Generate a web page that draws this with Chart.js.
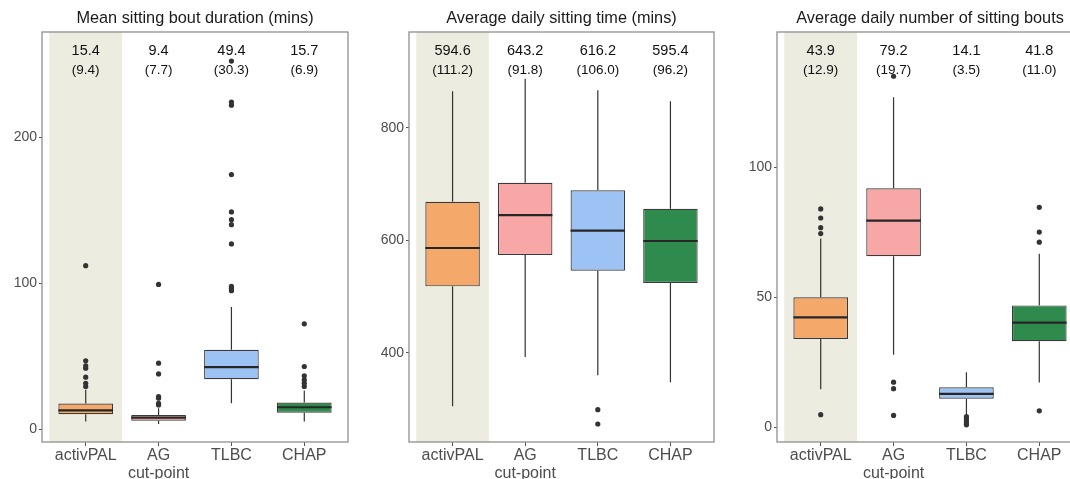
<!DOCTYPE html>
<html>
<head>
<meta charset="utf-8">
<script src="https://cdn.jsdelivr.net/npm/chart.js@4.4.0/dist/chart.umd.min.js"></script>
<style>
  html, body { margin: 0; padding: 0; background: #fff; overflow: hidden; width: 1070px; height: 479px; }
  canvas { position: absolute; top: 0; }
</style>
</head>
<body>
<canvas id="c1" width="356" height="479" style="left:0px"></canvas>
<canvas id="c2" width="362" height="479" style="left:360px"></canvas>
<canvas id="c3" width="361" height="479" style="left:730px"></canvas>
<script>
// categories (devices / methods)
const categories = ['activPAL', ['AG', 'cut-point'], 'TLBC', 'CHAP'];
const categoryPos = [1, 2, 3, 4];
const boxColors = ['#f4a96b', '#f7a8a6', '#9dc3f4', '#2f8a4d'];

// panel 1: mean sitting bout duration (mins)
const boutTicks = [0, 100, 200];
const boutMean = [15.4, 9.4, 49.4, 15.7];
const boutSD = [9.4, 7.7, 30.3, 6.9];
const boutLow = [5.3, 3.7, 17.8, 5.3];
const boutQ1 = [10.3, 5.9, 34.3, 11.4];
const boutMedian = [12.9, 8.0, 42.5, 15.1];
const boutQ3 = [17.6, 9.8, 54.4, 18.3];
const boutHigh = [27.0, 14.4, 83.7, 26.5];
const boutOutliers = [
    [29.3, 31.5, 35.7, 41.8, 43.4, 46.9, 112],
    [16.7, 17.8, 21.3, 22.4, 37.9, 45.3, 99.2],
    [94.9, 96.5, 97.8, 126.9, 140.1, 143.5, 148.8, 174.4, 221.9, 224.0, 252.1],
    [29.3, 31.5, 33.8, 36.6, 43.0, 72.2]
];

// panel 2: average daily sitting time (mins)
const sitTicks = [400, 600, 800];
const sitMean = [594.6, 643.2, 616.2, 595.4];
const sitSD = [111.2, 91.8, 106.0, 96.2];
const sitLow = [304.9, 392.6, 360.0, 347.6];
const sitQ1 = [518.2, 573.9, 546.1, 524.1];
const sitMedian = [586.4, 645.0, 617.2, 598.8];
const sitQ3 = [668.7, 702.5, 688.9, 656.3];
const sitHigh = [864.9, 887.4, 866.7, 847.1];
const sitOutliers = [[], [], [299.0, 273.5], []];

// panel 3: average daily number of sitting bouts
const nTicks = [0, 50, 100];
const nMean = [43.9, 79.2, 14.1, 41.8];
const nSD = [12.9, 19.7, 3.5, 11.0];
const nLow = [14.7, 27.9, 4.9, 17.3];
const nQ1 = [34.0, 65.8, 11.0, 33.1];
const nMedian = [42.3, 79.5, 12.9, 40.3];
const nQ3 = [50.0, 91.9, 15.4, 46.9];
const nHigh = [72.6, 126.9, 21.2, 66.8];
const nOutliers = [
    [74.5, 76.8, 80.5, 84.0, 4.9],
    [135.0, 17.4, 14.9, 4.6],
    [4.2, 3.2, 2.3, 1.4, 1.0],
    [84.6, 75.1, 71.2, 6.4]
];

const FONT = "'Liberation Sans', Arial, sans-serif";

// 画箱线图的须、中位数、边框、注释和标题
function boxPlugin(p) {
    return {
        id: 'boxExtras',
        beforeDatasetsDraw(chart) {
            const { ctx, chartArea: a, scales: { x, y } } = chart;
            ctx.save();
            // shaded activPAL band
            const x0 = x.getPixelForValue(0.5), x1 = x.getPixelForValue(1.5);
            ctx.fillStyle = '#edece0';
            ctx.fillRect(x0, a.top, x1 - x0, a.bottom - a.top);
            // whiskers
            ctx.strokeStyle = '#333';
            ctx.lineWidth = 1.2;
            categoryPos.forEach((c, i) => {
                const px = x.getPixelForValue(c);
                ctx.beginPath();
                ctx.moveTo(px, y.getPixelForValue(p.low[i]));
                ctx.lineTo(px, y.getPixelForValue(p.q1[i]));
                ctx.moveTo(px, y.getPixelForValue(p.q3[i]));
                ctx.lineTo(px, y.getPixelForValue(p.high[i]));
                ctx.stroke();
            });
            ctx.restore();
        },
        afterDatasetsDraw(chart) {
            const { ctx, chartArea: a, scales: { x, y } } = chart;
            const bars = chart.getDatasetMeta(1).data;
            ctx.save();
            // medians
            ctx.strokeStyle = '#262626';
            ctx.lineWidth = 2.2;
            categoryPos.forEach((c, i) => {
                const px = x.getPixelForValue(c);
                const half = bars[i].width / 2;
                const py = y.getPixelForValue(p.median[i]);
                ctx.beginPath();
                ctx.moveTo(px - half, py);
                ctx.lineTo(px + half, py);
                ctx.stroke();
            });
            // panel frame
            ctx.strokeStyle = '#8f8f8f';
            ctx.lineWidth = 1.3;
            ctx.strokeRect(a.left, a.top, a.right - a.left, a.bottom - a.top);
            // mean (SD) annotations
            ctx.fillStyle = '#111';
            ctx.textAlign = 'center';
            ctx.textBaseline = 'middle';
            categoryPos.forEach((c, i) => {
                const px = x.getPixelForValue(c);
                ctx.font = '14.5px ' + FONT;
                ctx.fillText(p.mean[i].toFixed(1), px, a.top + 19);
                ctx.font = '13.5px ' + FONT;
                ctx.fillText('(' + p.sd[i].toFixed(1) + ')', px, a.top + 38);
            });
            // title
            ctx.font = '16.3px ' + FONT;
            ctx.fillStyle = '#1a1a1a';
            ctx.fillText(p.title, (a.left + a.right) / 2, 19);
            ctx.restore();
        }
    };
}

function makePanel(id, p) {
    new Chart(document.getElementById(id), {
        type: 'bar',
        data: {
            datasets: [
                {
                    type: 'scatter',
                    data: p.outliers.flatMap((arr, i) => arr.map(v => ({ x: categoryPos[i], y: v }))),
                    backgroundColor: '#333',
                    borderWidth: 0,
                    pointRadius: 2.6
                },
                {
                    type: 'bar',
                    data: categoryPos.map((c, i) => ({ x: c, y: [p.q1[i], p.q3[i]] })),
                    backgroundColor: boxColors,
                    borderColor: '#3a3a3a',
                    borderWidth: 1.2,
                    borderSkipped: false,
                    barPercentage: 0.75,
                    categoryPercentage: 1
                }
            ]
        },
        options: {
            responsive: false,
            animation: false,
            layout: { padding: { top: 32, right: 8, left: 0, bottom: 0 } },
            plugins: { legend: { display: false }, tooltip: { enabled: false }, title: { display: false } },
            scales: {
                x: {
                    type: 'linear',
                    min: 0.4,
                    max: 4.6,
                    offset: false,
                    afterBuildTicks: s => { s.ticks = categoryPos.map(v => ({ value: v })); },
                    afterFit: s => { s.height = 37; },
                    grid: { offset: false, drawOnChartArea: false, drawTicks: true, tickLength: 4, color: '#555', lineWidth: 1 },
                    border: { display: false },
                    ticks: {
                        autoSkip: false,
                        maxRotation: 0,
                        padding: 1,
                        color: '#4d4d4d',
                        font: { family: FONT, size: 16, lineHeight: 1.12 },
                        callback: v => categories[v - 1]
                    }
                },
                y: {
                    min: p.min,
                    max: p.max,
                    afterBuildTicks: s => { s.ticks = p.ticks.map(v => ({ value: v })); },
                    afterFit: s => { s.width = p.axisWidth; },
                    grid: { drawOnChartArea: false, drawTicks: true, tickLength: 3, color: '#555', lineWidth: 1 },
                    border: { display: false },
                    ticks: {
                        padding: 2,
                        color: '#4d4d4d',
                        font: { family: FONT, size: 14 }
                    }
                }
            }
        },
        plugins: [boxPlugin(p)]
    });
}

makePanel('c1', {
    title: 'Mean sitting bout duration (mins)',
    min: -8.7, max: 272, ticks: boutTicks, axisWidth: 42,
    mean: boutMean, sd: boutSD, low: boutLow, q1: boutQ1, median: boutMedian, q3: boutQ3, high: boutHigh,
    outliers: boutOutliers
});
makePanel('c2', {
    title: 'Average daily sitting time (mins)',
    min: 241.5, max: 970.4, ticks: sitTicks, axisWidth: 49,
    mean: sitMean, sd: sitSD, low: sitLow, q1: sitQ1, median: sitMedian, q3: sitQ3, high: sitHigh,
    outliers: sitOutliers
});
makePanel('c3', {
    title: 'Average daily number of sitting bouts',
    min: -5.6, max: 152, ticks: nTicks, axisWidth: 47,
    mean: nMean, sd: nSD, low: nLow, q1: nQ1, median: nMedian, q3: nQ3, high: nHigh,
    outliers: nOutliers
});
</script>
</body>
</html>
